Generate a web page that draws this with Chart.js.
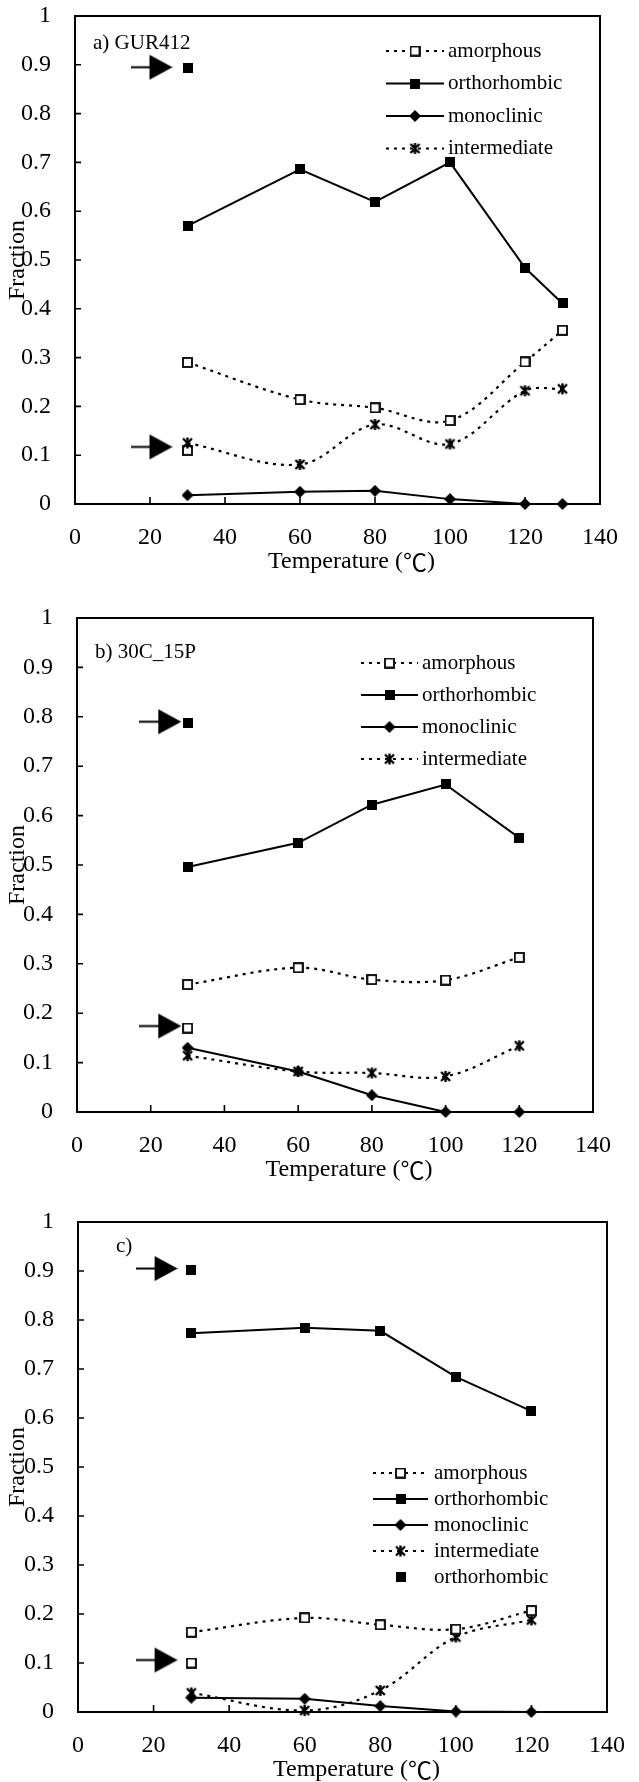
<!DOCTYPE html>
<html>
<head>
<meta charset="utf-8">
<script src="https://cdn.jsdelivr.net/npm/chart.js@4.4.1/dist/chart.umd.min.js"></script>
<style>
  html, body { margin: 0; padding: 0; background: #fff; overflow: hidden; width: 639px; height: 1782px; }
  canvas { position: absolute; left: 0; }
</style>
</head>
<body>
<canvas id="chartA" width="639" height="590" style="top:0px"></canvas>
<canvas id="chartB" width="639" height="608" style="top:590px"></canvas>
<canvas id="chartC" width="639" height="600" style="top:1198px"></canvas>
<script>
// axis tick labels
const xTickLabels = ['0', '20', '40', '60', '80', '100', '120', '140'];
const yTickLabels = ['0', '0.1', '0.2', '0.3', '0.4', '0.5', '0.6', '0.7', '0.8', '0.9', '1'];

// a) GUR412
const tempsA = [30, 60, 80, 100, 120, 130];
const amorphousA = [0.290, 0.214, 0.197, 0.171, 0.291, 0.356];
const orthoA = [0.570, 0.686, 0.619, 0.700, 0.484, 0.411];
const monoA = [0.018, 0.025, 0.027, 0.010, 0.000, 0.000];
const interA = [0.125, 0.081, 0.163, 0.123, 0.232, 0.236];
const refTempA = [30];
const refOrthoA = [0.893];
const refAmorphA = [0.110];
const arrowXA = [20.4, 20.4];
const arrowYA = [0.895, 0.117];

// b) 30C_15P
const tempsB = [30, 60, 80, 100, 120];
const amorphousB = [0.258, 0.292, 0.268, 0.267, 0.313];
const orthoB = [0.496, 0.545, 0.622, 0.663, 0.555];
const monoB = [0.130, 0.082, 0.034, 0.000, 0.000];
const interB = [0.114, 0.082, 0.079, 0.072, 0.134];
const refTempB = [30];
const refOrthoB = [0.788];
const refAmorphB = [0.170];
const arrowXB = [22.6, 22.6];
const arrowYB = [0.790, 0.174];

// c)
const tempsC = [30, 60, 80, 100, 120];
const amorphousC = [0.163, 0.192, 0.178, 0.169, 0.207];
const orthoC = [0.773, 0.784, 0.778, 0.684, 0.614];
const monoC = [0.029, 0.027, 0.012, 0.001, 0.000];
const interC = [0.039, 0.003, 0.044, 0.153, 0.188];
const refTempC = [30];
const refOrthoC = [0.903];
const refAmorphC = [0.100];
const arrowXC = [20.8, 20.8];
const arrowYC = [0.905, 0.106];

const FONT = 'Liberation Serif';
const CJK = 'Noto Sans CJK JP';

// marker images
function mk(w, h, draw) {
  const c = document.createElement('canvas');
  c.width = w; c.height = h;
  const g = c.getContext('2d');
  g.fillStyle = '#000'; g.strokeStyle = '#000';
  draw(g);
  return c;
}
const filledSq = mk(10, 10, g => g.fillRect(0, 0, 10, 10));
const openSq = mk(11, 11, g => {
  g.fillStyle = '#fff'; g.fillRect(0, 0, 11, 11);
  g.lineWidth = 1.8; g.strokeRect(1, 1, 9, 9);
});
const diamond = mk(12, 12, g => {
  g.beginPath(); g.moveTo(6, 0); g.lineTo(12, 6); g.lineTo(6, 12); g.lineTo(0, 6); g.closePath(); g.fill();
});
const aster = mk(13, 13, g => {
  g.lineWidth = 2.4; g.beginPath();
  g.moveTo(2, 2); g.lineTo(11, 11); g.moveTo(11, 2); g.lineTo(2, 11);
  g.moveTo(6.5, 1); g.lineTo(6.5, 12);
  g.stroke();
});
const arrow = mk(42, 27, g => {
  g.lineWidth = 2; g.beginPath(); g.moveTo(0, 13.5); g.lineTo(20, 13.5); g.stroke();
  g.beginPath(); g.moveTo(19, 1); g.lineTo(42, 13.5); g.lineTo(19, 26); g.closePath(); g.fill();
});

function pts(xs, ys) { return ys.map((v, i) => ({ x: xs[i], y: v })); }

function line(label, xs, ys, marker, dotted, legend) {
  return {
    label: label, data: pts(xs, ys), showLine: true,
    borderColor: '#000', borderWidth: dotted ? 2.2 : 2,
    borderDash: dotted ? [3, 5] : [],
    tension: dotted ? 0.35 : 0,
    pointStyle: marker, pointRadius: 6, pointHoverRadius: 6,
    clip: false, legendShow: legend, dotted: dotted
  };
}
function marks(label, xs, ys, marker, legend) {
  return {
    label: label, data: pts(xs, ys), showLine: false,
    pointStyle: marker, pointRadius: 6, pointHoverRadius: 6,
    clip: false, legendShow: legend, dotted: false, noLine: true
  };
}

const deco = {
  id: 'deco',
  beforeDatasetsDraw(chart, args, o) {
    const { ctx, chartArea: a, scales: { x, y } } = chart;
    ctx.save();
    ctx.strokeStyle = '#000';
    ctx.lineWidth = 2;
    ctx.strokeRect(a.left, a.top, a.right - a.left, a.bottom - a.top);
    ctx.lineWidth = 1.6;
    ctx.beginPath();
    x.ticks.forEach(t => {
      if (t.value > x.min && t.value < x.max) {
        const px = x.getPixelForValue(t.value);
        ctx.moveTo(px, a.bottom); ctx.lineTo(px, a.bottom - 7);
      }
    });
    y.ticks.forEach(t => {
      if (t.value > y.min + 1e-6 && t.value < y.max - 1e-6) {
        const py = y.getPixelForValue(t.value);
        ctx.moveTo(a.left, py); ctx.lineTo(a.left + 6, py);
      }
    });
    ctx.stroke();
    ctx.restore();
  },
  afterDraw(chart, args, o) {
    const { ctx, chartArea: a } = chart;
    ctx.save();
    ctx.fillStyle = '#000';
    ctx.strokeStyle = '#000';
    ctx.textBaseline = 'middle';
    ctx.textAlign = 'left';

    // x axis title, the degree sign set in a CJK face as in the original
    const parts = [['Temperature (', FONT], ['℃', CJK], [')', FONT]];
    let w = 0;
    parts.forEach(pt => { ctx.font = '24px "' + pt[1] + '"'; w += ctx.measureText(pt[0]).width; });
    let tx = (a.left + a.right) / 2 + o.titleShift - w / 2;
    const ty = a.bottom + 58;
    parts.forEach(pt => {
      ctx.font = '24px "' + pt[1] + '"';
      ctx.fillText(pt[0], tx, ty);
      tx += ctx.measureText(pt[0]).width;
    });

    ctx.font = '21px "' + FONT + '"';
    ctx.fillText(o.label, a.left + o.labelDX, a.top + o.labelDY);
    let row = 0;
    chart.data.datasets.forEach(ds => {
      if (!ds.legendShow) return;
      const yy = a.top + o.legDY + row * o.legStep;
      const x0 = a.left + o.legX0, x1 = a.left + o.legX1;
      if (!ds.noLine) {
        ctx.lineWidth = 2;
        ctx.setLineDash(ds.dotted ? [3, 5] : []);
        ctx.beginPath(); ctx.moveTo(x0, yy); ctx.lineTo(x1, yy); ctx.stroke();
        ctx.setLineDash([]);
      }
      const m = ds.pointStyle;
      ctx.drawImage(m, (x0 + x1) / 2 - m.width / 2, yy - m.height / 2);
      ctx.fillText(ds.label, a.left + o.legTX, yy);
      row++;
    });
    ctx.restore();
  }
};

function makePanel(id, p) {
  const datasets = [
    line('amorphous', p.temps, p.amorphous, openSq, true, true),
    line('orthorhombic', p.temps, p.ortho, filledSq, false, true),
    line('monoclinic', p.temps, p.mono, diamond, false, true),
    line('intermediate', p.temps, p.inter, aster, true, true),
    marks('orthorhombic', p.refTemp, p.refOrtho, filledSq, p.refInLegend),
    marks('amorphous', p.refTemp, p.refAmorph, openSq, false),
    marks('arrow', p.arrowX, p.arrowY, arrow, false)
  ];
  return new Chart(document.getElementById(id), {
    type: 'scatter',
    data: { datasets: datasets },
    options: {
      responsive: false,
      animation: false,
      devicePixelRatio: 1,
      layout: { autoPadding: false, padding: { top: p.padTop, right: p.padRight, left: 0, bottom: 0 } },
      plugins: {
        legend: { display: false },
        tooltip: { enabled: false },
        deco: p.deco
      },
      scales: {
        x: {
          type: 'linear', min: 0, max: 140,
          grid: { display: false }, border: { display: false },
          afterFit: s => { s.height = 86; s.paddingLeft = 0; s.paddingRight = 0; },
          ticks: {
            stepSize: 20, autoSkip: false, maxRotation: 0, padding: 11,
            color: '#000', font: { family: FONT, size: 24 },
            callback: (v, i) => xTickLabels[i]
          },
          title: { display: false }
        },
        y: {
          type: 'linear', min: 0, max: 1,
          grid: { display: false }, border: { display: false },
          afterFit: s => { s.width = p.yWidth; s.paddingTop = 0; s.paddingBottom = 0; },
          ticks: {
            stepSize: 0.1, autoSkip: false, padding: 16, crossAlign: 'near',
            color: '#000', font: { family: FONT, size: 24 },
            callback: (v, i) => yTickLabels[i]
          },
          title: {
            display: true, text: 'Fraction', color: '#000',
            font: { family: FONT, size: 24 }, padding: { top: 3, bottom: 0 }
          }
        }
      }
    },
    plugins: [deco]
  });
}

makePanel('chartA', {
  temps: tempsA, amorphous: amorphousA, ortho: orthoA, mono: monoA, inter: interA,
  refTemp: refTempA, refOrtho: refOrthoA, refAmorph: refAmorphA, refInLegend: false,
  arrowX: arrowXA, arrowY: arrowYA,
  padTop: 16, padRight: 39, yWidth: 75,
  deco: { label: 'a) GUR412', labelDX: 18, labelDY: 27, legX0: 311, legX1: 369, legTX: 373, legDY: 35, legStep: 32.5, titleShift: 14 }
});
makePanel('chartB', {
  temps: tempsB, amorphous: amorphousB, ortho: orthoB, mono: monoB, inter: interB,
  refTemp: refTempB, refOrtho: refOrthoB, refAmorph: refAmorphB, refInLegend: false,
  arrowX: arrowXB, arrowY: arrowYB,
  padTop: 28, padRight: 46, yWidth: 77,
  deco: { label: 'b) 30C_15P', labelDX: 18, labelDY: 34, legX0: 284, legX1: 341, legTX: 345, legDY: 45, legStep: 32, titleShift: 14 }
});
makePanel('chartC', {
  temps: tempsC, amorphous: amorphousC, ortho: orthoC, mono: monoC, inter: interC,
  refTemp: refTempC, refOrtho: refOrthoC, refAmorph: refAmorphC, refInLegend: true,
  arrowX: arrowXC, arrowY: arrowYC,
  padTop: 24, padRight: 32, yWidth: 78,
  deco: { label: 'c)', labelDX: 38, labelDY: 24, legX0: 295, legX1: 350, legTX: 356, legDY: 251, legStep: 26, titleShift: 14 }
});
</script>
</body>
</html>
